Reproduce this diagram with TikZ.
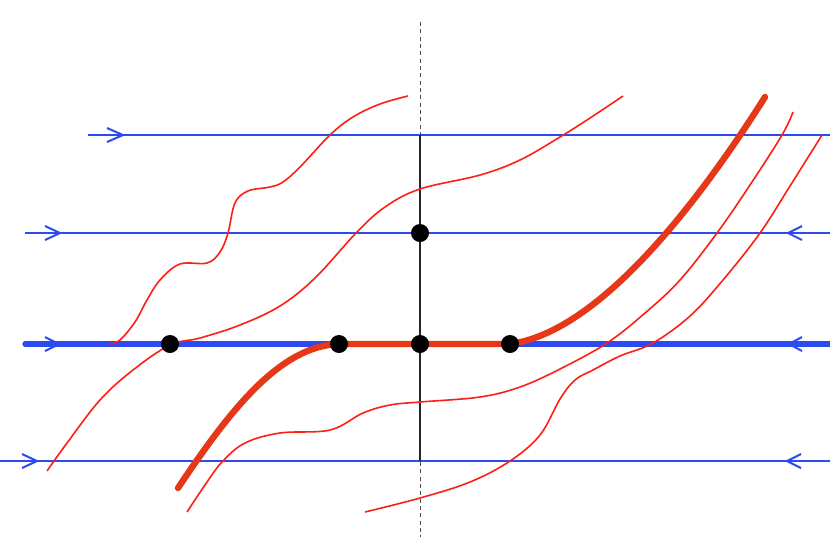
\documentclass[tikz,border=0pt]{standalone}
\definecolor{fblue}{RGB}{43,75,240}
\definecolor{thickred}{RGB}{230,55,25}
\definecolor{thinred}{RGB}{255,30,20}
\tikzset{
  bline/.style={fblue, line width=1.5},
  bthick/.style={fblue, line width=4, line cap=round},
  chev/.style={fblue, line width=1.5},
  rthin/.style={thinred, line width=1.2},
  rthick/.style={thickred, line width=4.8, line cap=round},
  dot/.style={circle, fill=black, inner sep=0pt, minimum size=13.5},
  axis/.style={black!85, line width=1.8},
  dashax/.style={black!70, line width=0.6, dash pattern=on 3pt off 2.5pt}
}
\begin{document}
\begin{tikzpicture}[x=0.75pt, y=-0.75pt]
\useasboundingbox (0,0) rectangle (830,537);
% dashed axis
\coordinate (vtop) at (420,22);
\coordinate (vbot) at (420,537);
\draw[dashax] (vtop) -- (vbot);
% blue lines
\coordinate (l1a) at (88,135);  \coordinate (l1b) at (830,135);
\coordinate (l2a) at (25,233);  \coordinate (l2b) at (830,233);
\coordinate (l3a) at (25,344);  \coordinate (l3b) at (832,344);
\coordinate (l4a) at (0,461);   \coordinate (l4b) at (830,461);
\draw[bline] (l1a) -- (l1b);
\draw[bline] (l2a) -- (l2b);
\draw[bthick] (l3a) -- (l3b);
\draw[bline] (l4a) -- (l4b);
% chevrons
\draw[chev] (107,128) -- (123,135) -- (107,142);
\draw[chev] (45,226) -- (60,233) -- (45,240);
\draw[chev] (45,337) -- (59,344) -- (45,351);
\draw[chev] (22,454) -- (37,461) -- (22,468);
\draw[chev] (802,226) -- (788,233) -- (802,240);
\draw[chev] (802,337) -- (789,344) -- (802,351);
\draw[chev] (801,454) -- (787,461) -- (801,468);
% solid axis
\coordinate (atop) at (420,135);
\coordinate (abot) at (420,461);
\draw[axis] (atop) -- (abot);
% thin red curves
\draw[rthin] plot[smooth, tension=0.6] coordinates {(110,344) (120,340) (135,322) (147,300) (160,280) (180,264) (207,263) (220,252) (228,233) (235,203) (248,191) (270,187) (283,182) (300,167) (330,135) (353,117) (380,104) (408,96)};
\draw[rthin] plot[smooth, tension=0.6] coordinates {(47,471) (67,443) (100,400) (133,370) (170,345) (200,338) (240,325) (280,306) (315,278) (357,232) (385,207) (420,189) (480,175) (520,160) (560,137) (590,118) (623,96)};
\draw[rthin] plot[smooth, tension=0.6] coordinates {(187,512) (205,485) (222,462) (245,443) (280,433) (330,430) (363,413) (390,405) (420,402) (480,397) (520,387) (560,369) (607,343) (645,313) (680,280) (717,233) (750,185) (782,135) (793,112)};
\draw[rthin] plot[smooth, tension=0.6] coordinates {(365,512) (420,498) (470,482) (510,461) (540,435) (560,399) (575,380) (593,370) (620,356) (653,343) (690,316) (723,280) (760,233) (790,186) (822,135)};
% thick red curve
\coordinate (t0) at (178,488);
\coordinate (t3) at (765,97);
\draw[rthick] (t0) .. controls (230,410) and (280,346) .. (339,344) -- (510,344) .. controls (600,332) and (700,200) .. (t3);
% dots
\node[dot] (p0) at (420,233) {};
\node[dot] (p1) at (170,344) {};
\node[dot] (p2) at (339,344) {};
\node[dot] (p3) at (420,344) {};
\node[dot] (p4) at (510,344) {};
\end{tikzpicture}
\end{document}
